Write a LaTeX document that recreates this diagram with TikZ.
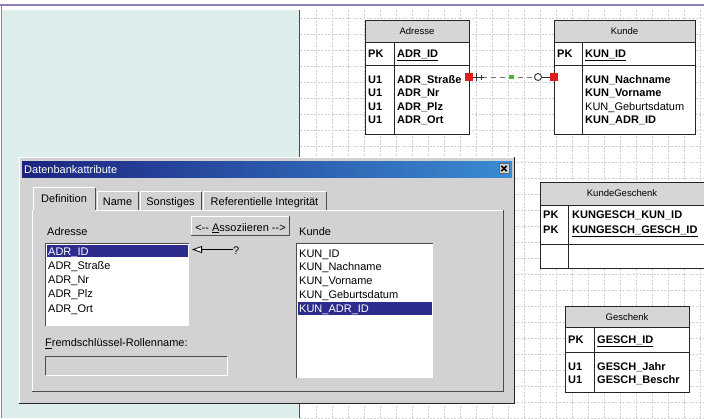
\documentclass[tikz,border=0pt]{standalone}
\usepackage{fontspec}
\setmainfont{Liberation Sans}
\usetikzlibrary{arrows.meta}
\definecolor{panelbg}{RGB}{220,237,236}
\definecolor{framepurple}{RGB}{146,126,192}
\definecolor{dlggray}{RGB}{210,210,210}
\definecolor{headgray}{RGB}{214,214,214}
\definecolor{titleleft}{RGB}{28,36,128}
\definecolor{titleright}{RGB}{58,140,208}
\definecolor{selblue}{RGB}{44,44,140}
\definecolor{fkred}{RGB}{226,28,28}
\definecolor{fkgreen}{RGB}{88,176,64}
\definecolor{gridgray}{RGB}{208,208,208}
\tikzset{
  gridline/.style={gridgray, line width=0.6pt, dash pattern=on 2pt off 1.5pt},
  tabline/.style={draw=black!85, line width=0.9pt},
  lightedge/.style={white, line width=1pt},
  darkedge/.style={black!70, line width=1pt},
  headtxt/.style={anchor=base, inner sep=0pt, font=\fontsize{9.5}{11}\selectfont},
  keytxt/.style={anchor=base west, inner sep=0pt, font=\fontsize{11}{13}\selectfont\bfseries},
  plaintxt/.style={anchor=base west, inner sep=0pt, font=\fontsize{11}{13}\selectfont},
  dlgtxt/.style={anchor=base west, inner sep=0pt, font=\fontsize{11}{13}\selectfont},
  seltxt/.style={dlgtxt, text=white},
  tabtxt/.style={anchor=base, inner sep=0pt, font=\fontsize{11}{13}\selectfont},
  fkbox/.style={fill=fkred, minimum size=8pt, inner sep=0pt},
}
\begin{document}
\begin{tikzpicture}[x=1pt,y=-1pt]
\useasboundingbox (0,0) rectangle (704,418);
\fill[white] (0,0) rectangle (704,418);
\fill[panelbg] (2,10) rectangle (299,418);
\foreach \x in {316,332,...,704} \draw[gridline] (\x,10) -- (\x,418);
\foreach \y in {18,34,...,418} \draw[gridline] (300,\y) -- (704,\y);
\draw[black!70, line width=1.6pt] (299.5,10) -- (299.5,418);
\draw[framepurple, line width=1.6pt] (0,4.8) -- (704,4.8);
\draw[framepurple, line width=1.4pt] (1.2,4.8) -- (1.2,418);

\filldraw[tabline, fill=headgray] (365,20) rectangle (469,42);
\filldraw[tabline, fill=white] (365,42) rectangle (469,134);
\draw[tabline] (365,65) -- (469,65);
\draw[tabline] (394,42) -- (394,134);
\node[headtxt] (adrhead) at (417,34.5) {Adresse};
\node[keytxt] (adrpk) at (368,57) {PK};
\node[keytxt] (adrid) at (397,57) {\underline{ADR\_ID}};
\node[keytxt] (adru1) at (368,83) {U1};
\node[keytxt] (adru2) at (368,96.5) {U1};
\node[keytxt] (adru3) at (368,110) {U1};
\node[keytxt] (adru4) at (368,123.5) {U1};
\node[keytxt] (adrstr) at (397,83) {ADR\_Straße};
\node[keytxt] (adrnr) at (397,96.5) {ADR\_Nr};
\node[keytxt] (adrplz) at (397,110) {ADR\_Plz};
\node[keytxt] (adrort) at (397,123.5) {ADR\_Ort};

\filldraw[tabline, fill=headgray] (554,20) rectangle (695,42);
\filldraw[tabline, fill=white] (554,42) rectangle (695,134);
\draw[tabline] (554,65) -- (695,65);
\draw[tabline] (582,42) -- (582,134);
\node[headtxt] (kunhead) at (624.5,34.5) {Kunde};
\node[keytxt] (kunpk) at (557,57) {PK};
\node[keytxt] (kunid) at (585,57) {\underline{KUN\_ID}};
\node[keytxt] (kunnach) at (585,83) {KUN\_Nachname};
\node[keytxt] (kunvor) at (585,96.5) {KUN\_Vorname};
\node[plaintxt] (kungeb) at (585,110) {KUN\_Geburtsdatum};
\node[keytxt] (kunadr) at (585,123.5) {KUN\_ADR\_ID};

\node[fkbox] (fkadr) at (469,77) {};
\node[fkbox] (fkkun) at (554,77) {};
\draw[black!55, line width=0.9pt, dash pattern=on 5pt off 4pt] (fkadr.east) -- (fkkun.west);
\draw[black!80, line width=0.9pt] (fkadr.east) -- ++(11,0);
\draw[black!80, line width=0.9pt] (476,73) -- (476,81);
\draw[black!80, line width=0.9pt] (481,74.5) -- (481,79.5);
\draw[black!80, line width=0.9pt] (fkkun.west) -- ++(-8,0);
\node[fill=fkgreen, minimum width=5pt, minimum height=3.5pt, inner sep=0pt] (fkmid) at (511.5,77) {};
\node[circle, draw=black!80, line width=0.9pt, fill=white, inner sep=0pt, minimum size=7pt] (fkopt) at (538,77) {};

\filldraw[tabline, fill=headgray] (540,182) rectangle (706,205);
\filldraw[tabline, fill=white] (540,205) rectangle (706,268);
\draw[tabline] (540,244) -- (706,244);
\draw[tabline] (568,205) -- (568,268);
\node[headtxt] (kghead) at (622,196.5) {KundeGeschenk};
\node[keytxt] (kgpk1) at (543,218) {PK};
\node[keytxt] (kgpk2) at (543,233) {PK};
\node[keytxt] (kgkun) at (572,218) {KUNGESCH\_KUN\_ID};
\node[keytxt] (kggesch) at (572,233) {\underline{KUNGESCH\_GESCH\_ID}};

\filldraw[tabline, fill=headgray] (565,306) rectangle (689,327);
\filldraw[tabline, fill=white] (565,327) rectangle (689,392);
\draw[tabline] (565,352) -- (689,352);
\draw[tabline] (594,327) -- (594,392);
\node[headtxt] (geshead) at (627,320) {Geschenk};
\node[keytxt] (gespk) at (568,343) {PK};
\node[keytxt] (gesid) at (597,343) {\underline{GESCH\_ID}};
\node[keytxt] (gesu1) at (568,370) {U1};
\node[keytxt] (gesu2) at (568,383.5) {U1};
\node[keytxt] (gesjahr) at (597,370) {GESCH\_Jahr};
\node[keytxt] (gesbes) at (597,383.5) {GESCH\_Beschr};

\fill[dlggray] (19,157) rectangle (515,404);
\draw[lightedge] (19.5,404) -- (19.5,157.5) -- (515,157.5);
\draw[black!85, line width=1.4pt] (19,403.5) -- (514.5,403.5) -- (514.5,157);
\shade[left color=titleleft, right color=titleright] (22,161) rectangle (512,177);
\node[dlgtxt, text=white] (title) at (24,173) {Datenbankattribute};
\node[fill=dlggray, draw=black!60, minimum size=10pt, inner sep=0pt] (close) at (504,168.5) {};
\draw[black, line width=1.5pt] ([shift={(2.5,2.5)}]close.north west) -- ([shift={(-2.5,-2.5)}]close.south east);
\draw[black, line width=1.5pt] ([shift={(-2.5,2.5)}]close.north east) -- ([shift={(2.5,-2.5)}]close.south west);

\draw[lightedge] (95,210.5) -- (503,210.5);
\draw[lightedge] (32.5,210) -- (32.5,391);
\draw[darkedge] (503,210) -- (503,391) -- (32,391);
\draw[lightedge] (33,210) -- (33,187.5) -- (95,187.5);
\draw[darkedge] (95,187.5) -- (95,210);
\draw[lightedge] (97.5,210) -- (97.5,191.5) -- (138,191.5);
\draw[darkedge] (138,191.5) -- (138,210);
\draw[lightedge] (140.5,210) -- (140.5,191.5) -- (201,191.5);
\draw[darkedge] (201,191.5) -- (201,210);
\draw[lightedge] (203.5,210) -- (203.5,191.5) -- (326,191.5);
\draw[darkedge] (326,191.5) -- (326,210);
\node[tabtxt] (tabdef) at (64,202.5) {Definition};
\node[tabtxt] (tabname) at (117.5,205) {Name};
\node[tabtxt] (tabsonst) at (170.5,205) {Sonstiges};
\node[tabtxt] (tabref) at (264.5,205) {Referentielle Integrität};

\node[dlgtxt] (lbladr) at (47,235) {Adresse};
\node[dlgtxt] (lblkun) at (299,235) {Kunde};
\node[fill=dlggray, minimum width=98pt, minimum height=19pt, inner sep=0pt] (assoz) at (240.5,226) {};
\draw[lightedge] (assoz.south west) -- (assoz.north west) -- (assoz.north east);
\draw[darkedge] (assoz.north east) -- (assoz.south east) -- (assoz.south west);
\node[tabtxt] (assoztxt) at (240.5,231) {<-{}- \underline{A}ssoziieren -{}->};

\fill[white] (45,243) rectangle (189,326);
\draw[darkedge] (45.5,326) -- (45.5,243.5) -- (189,243.5);
\fill[selblue] (46.5,244.5) rectangle (188,257);
\node[seltxt] (adrlid) at (48,255) {ADR\_ID};
\node[dlgtxt] (adrlstr) at (48,269.3) {ADR\_Straße};
\node[dlgtxt] (adrlnr) at (48,283.6) {ADR\_Nr};
\node[dlgtxt] (adrlplz) at (48,297.9) {ADR\_Plz};
\node[dlgtxt] (adrlort) at (48,312.2) {ADR\_Ort};

\fill[white] (296,243) rectangle (433,378);
\draw[darkedge] (296.5,378) -- (296.5,243.5) -- (433,243.5);
\fill[selblue] (297.5,301.7) rectangle (432,315);
\node[dlgtxt] (kunlid) at (299,257) {KUN\_ID};
\node[dlgtxt] (kunlnach) at (299,270.9) {KUN\_Nachname};
\node[dlgtxt] (kunlvor) at (299,284.8) {KUN\_Vorname};
\node[dlgtxt] (kunlgeb) at (299,298.7) {KUN\_Geburtsdatum};
\node[seltxt] (kunladr) at (299,312.6) {KUN\_ADR\_ID};

\node[dlgtxt] (quest) at (233,254) {?};
\draw[black, line width=0.8pt, -{Triangle[open, fill=white, length=10pt, width=7pt]}] (quest.base west) ++(0,-4.5) -- (192,249.5);

\node[dlgtxt] (lblrolle) at (45,346.5) {\underline{F}remdschlüssel-Rollenname:};
\draw[darkedge] (45.5,375) -- (45.5,356.5) -- (227,356.5);
\draw[lightedge] (227,356.5) -- (227,375) -- (45.5,375);
\end{tikzpicture}
\end{document}
